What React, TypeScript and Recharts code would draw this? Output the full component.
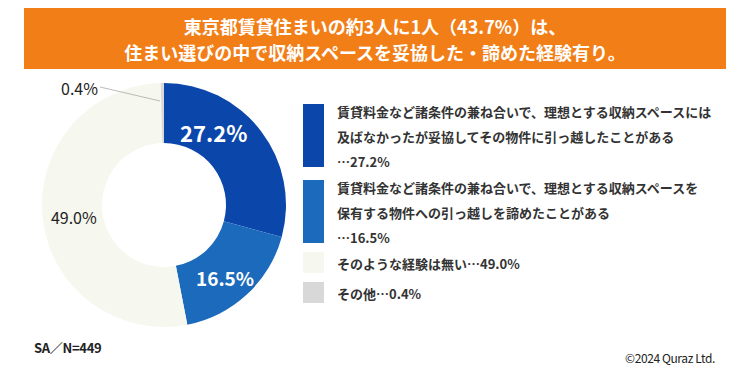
import React from "react";
import { PieChart, Pie, Cell, Legend } from "recharts";

// answer categories (legend text, split into the lines shown)
const categories = [
  "賃貸料金など諸条件の兼ね合いで、理想とする収納スペースには|及ばなかったが妥協してその物件に引っ越したことがある",
  "賃貸料金など諸条件の兼ね合いで、理想とする収納スペースを|保有する物件への引っ越しを諦めたことがある",
  "そのような経験は無い",
  "その他",
];
const shares = [27.2, 16.5, 49.0, 0.4];
const colors = ["#0B47AA", "#1C6ABC", "#F6F7EE", "#D8D8D8"];

const titleLines = [
  "東京都賃貸住まいの約3人に1人（43.7%）は、",
  "住まい選びの中で収納スペースを妥協した・諦めた経験有り。",
];

const data = categories.map((name, i) => ({ name, value: shares[i] }));

const FONT = '"Noto Sans CJK JP", "Noto Sans", sans-serif';
const RADIAN = Math.PI / 180;

// hand placement of the in-ring labels (angle in degrees, distance from centre)
const labelPlace = [
  { angle: 55.6, r: 88, size: 22, bold: true, color: "#fff" },
  { angle: -50, r: 95, size: 19, bold: true, color: "#fff" },
  { angle: 187.6, r: 91, size: 16, bold: false, color: "#222" },
];

const renderLabel = (props: any) => {
  const { cx, cy, index, value } = props;
  const text = `${Number(value).toFixed(1)}%`;
  if (index === 3) {
    // small slice: label outside with leader line
    const x1 = cx - 4;
    const y1 = cy - 104;
    const x2 = cx - 64;
    const y2 = cy - 118;
    return (
      <g>
        <line x1={x1} y1={y1} x2={x2} y2={y2} stroke="#bbbbbb" strokeWidth={1} />
        <text x={x2 - 2} y={y2 + 1} textAnchor="end" dominantBaseline="central"
          fontSize={16} fill="#222" fontFamily={FONT}>
          {text}
        </text>
      </g>
    );
  }
  const p = labelPlace[index];
  const x = cx + p.r * Math.cos(p.angle * RADIAN);
  const y = cy - p.r * Math.sin(p.angle * RADIAN);
  return (
    <text x={x} y={y} textAnchor="middle" dominantBaseline="central"
      fontSize={p.size} fontWeight={p.bold ? 700 : 400} fill={p.color} fontFamily={FONT}>
      {text}
    </text>
  );
};

const LegendBox = (props: any) => {
  const { payload } = props;
  return (
    <div style={{ fontFamily: FONT }}>
      {(payload || []).map((entry: any, i: number) => {
        const lines = categories[i].split("|");
        const pct = `…${shares[i].toFixed(1)}%`;
        const single = lines.length === 1;
        if (single) lines[0] += pct;
        else lines.push(pct);
        return (
          <div key={i} style={{ display: "flex", marginBottom: single ? 5 : 1 }}>
            <div
              style={{
                width: 21,
                height: single ? 21 : lines.length * 25 - 12,
                marginTop: single ? 1 : 5,
                marginRight: 13,
                background: colors[i],
                flexShrink: 0,
              }}
            />
            <div style={{ fontSize: 13, fontWeight: 600, color: "#333", lineHeight: "25px", whiteSpace: "nowrap" }}>
              {lines.map((l, j) => (
                <div key={j}>{l}</div>
              ))}
            </div>
          </div>
        );
      })}
    </div>
  );
};

export default function App() {
  return (
    <div style={{ position: "absolute", left: 0, top: 0, width: 750, height: 370, background: "#fff", fontFamily: FONT }}>
      <div
        style={{
          position: "absolute",
          left: 24,
          top: 8,
          width: 702,
          height: 61,
          background: "#F27E18",
          color: "#fff",
          fontWeight: 700,
          fontSize: 18,
          lineHeight: "26px",
          textAlign: "center",
          display: "flex",
          flexDirection: "column",
          justifyContent: "center",
        }}
      >
        {titleLines.map((t, i) => (
          <div key={i}>{t}</div>
        ))}
      </div>

      <PieChart width={750} height={370} style={{ position: "absolute", left: 0, top: 0 }}>
        <Pie
          data={data}
          dataKey="value"
          nameKey="name"
          cx={159}
          cy={200}
          innerRadius={62}
          outerRadius={122}
          startAngle={90}
          endAngle={-270}
          stroke="none"
          label={renderLabel}
          labelLine={false}
          isAnimationActive={false}
        >
          {data.map((_, i) => (
            <Cell key={i} fill={colors[i]} />
          ))}
        </Pie>
        <Legend
          content={<LegendBox />}
          wrapperStyle={{ position: "absolute", left: 303, top: 99, width: 440 }}
        />
      </PieChart>

      <div style={{ position: "absolute", left: 34, top: 338, fontSize: 13, fontWeight: 700, color: "#222", letterSpacing: -0.3 }}>
        SA／N=449
      </div>
      <div style={{ position: "absolute", right: 35, top: 349, fontSize: 12, color: "#222", letterSpacing: -0.4 }}>
        ©2024 Quraz Ltd.
      </div>
    </div>
  );
}
